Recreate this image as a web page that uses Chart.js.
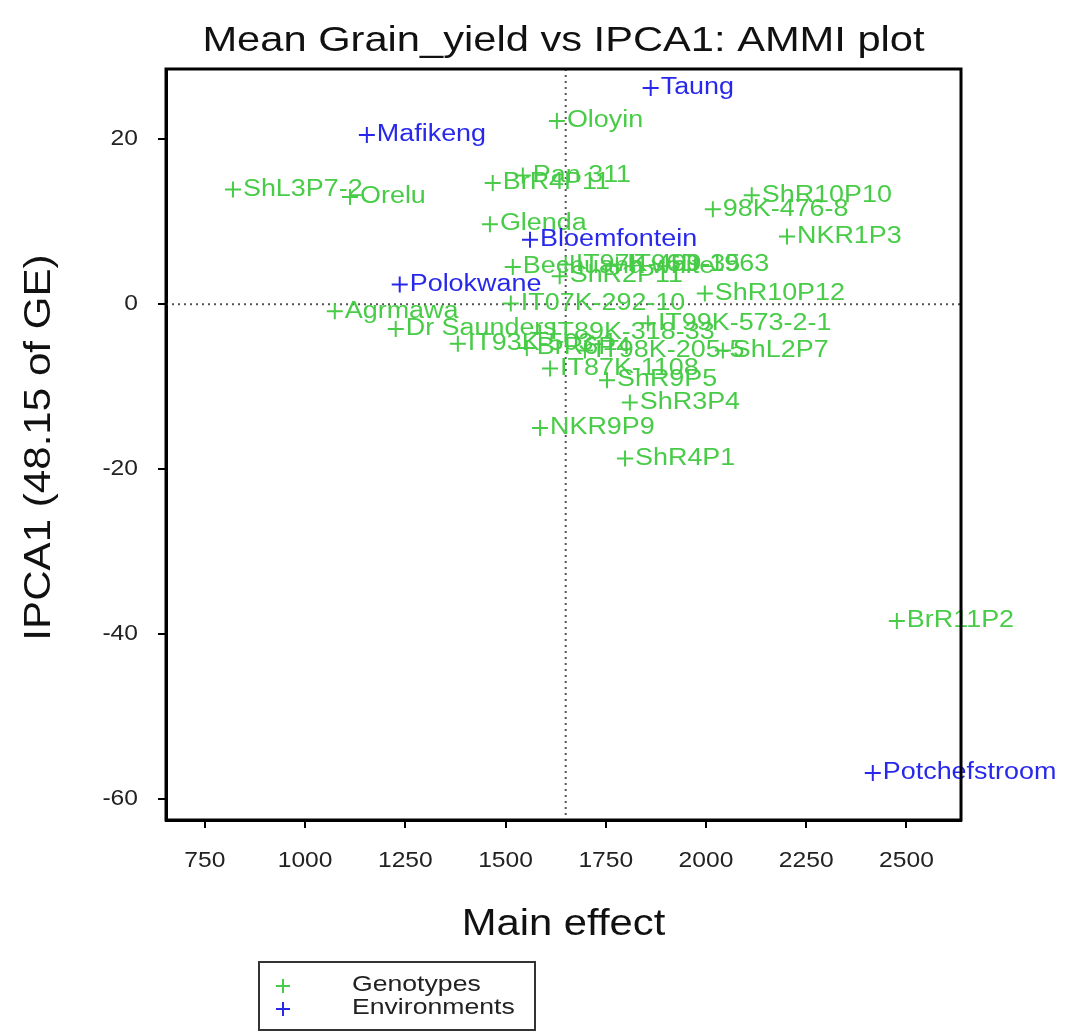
<!DOCTYPE html>
<html>
<head>
<meta charset="utf-8">
<script src="https://cdn.jsdelivr.net/npm/chart.js@4/dist/chart.umd.min.js"></script>
<style>
  body { margin: 0; background: #fff; }
  #wrap { width: 1065px; height: 1034px; }
</style>
</head>
<body>
<div id="wrap"><canvas id="ammi" width="1065" height="1034"></canvas></div>
<script>
// AMMI1 biplot data
const genoNames = ['Oloyin', 'Pan 311', 'BrR4P11', 'ShL3P7-2', 'Orelu', 'ShR10P10', '98K-476-8', 'NKR1P3',
  'Glenda', 'Bechuana white', 'IT97K-499-35', 'IT96D-1963', 'ShR2P11', 'IT07K-292-10', 'ShR10P12',
  'Agrmawa', 'Dr Saunders', 'IT99K-573-2-1', 'ShL2P7', 'IT93K-503-1', 'IT89K-318-33', 'BrR6P4',
  'IT98K-205-5', 'IT87K-1108', 'ShR9P5', 'ShR3P4', 'NKR9P9', 'ShR4P1', 'BrR11P2'];
const genoMean = [1628, 1543, 1468, 820, 1112, 2114, 2017, 2202,
  1461, 1518, 1650, 1778, 1635, 1513, 1997,
  1074, 1226, 1855, 2042, 1381, 1586, 1553,
  1698, 1611, 1753, 1810, 1586, 1798, 2476];
const genoIPCA1 = [22.2, 15.6, 14.7, 13.9, 13.0, 13.2, 11.5, 8.2,
  9.7, 4.5, 4.8, 4.8, 3.4, 0.1, 1.3,
  -0.85, -3.0, -2.3, -5.6, -4.8, -3.5, -5.3,
  -5.6, -7.8, -9.2, -11.9, -15.0, -18.7, -38.4];

const envNames = ['Taung', 'Mafikeng', 'Bloemfontein', 'Polokwane', 'Potchefstroom'];
const envMean = [1862, 1154, 1561, 1236, 2416];
const envIPCA1 = [26.2, 20.5, 7.8, 2.4, -56.8];

const grandMean = 1650;
const xTicks = [750, 1000, 1250, 1500, 1750, 2000, 2250, 2500];
const yTicks = [-60, -40, -20, 0, 20];

const GREEN = 'rgb(72, 204, 72)';
const BLUE = 'rgb(40, 40, 235)';
const FONT = '"Liberation Sans", Arial, sans-serif';

const toPoints = (xs, ys) => xs.map((x, i) => ({ x: x, y: ys[i] }));

// the original text is set wide, so stretch it horizontally
function wideText(ctx, text, x, y, sx) {
  ctx.save();
  ctx.translate(x, y);
  ctx.scale(sx, 1);
  ctx.fillText(text, 0, 0);
  ctx.restore();
}

const overlay = {
  id: 'overlay',
  beforeDatasetsDraw(chart) {
    const { ctx, chartArea: a, scales: { x, y } } = chart;
    ctx.save();
    ctx.strokeStyle = '#555';
    ctx.lineWidth = 2;
    ctx.setLineDash([2, 4]);
    const gx = x.getPixelForValue(grandMean);
    ctx.beginPath();
    ctx.moveTo(gx, a.top); ctx.lineTo(gx, a.bottom);
    const gy = y.getPixelForValue(0);
    ctx.moveTo(a.left, gy); ctx.lineTo(a.right, gy);
    ctx.stroke();
    ctx.restore();
  },
  afterDatasetsDraw(chart) {
    const { ctx } = chart;
    ctx.save();
    ctx.font = '23px ' + FONT;
    ctx.textBaseline = 'middle';
    ctx.textAlign = 'left';
    const names = [genoNames, envNames];
    chart.data.datasets.forEach((ds, di) => {
      const meta = chart.getDatasetMeta(di);
      ctx.fillStyle = ds.borderColor;
      meta.data.forEach((pt, i) => {
        wideText(ctx, names[di][i], pt.x + 10, pt.y, 1.17);
      });
    });
    ctx.restore();
  },
  afterDraw(chart) {
    const { ctx, chartArea: a, scales: { x, y } } = chart;
    ctx.save();
    // plot frame
    ctx.strokeStyle = '#000';
    ctx.lineWidth = 3;
    ctx.strokeRect(a.left, a.top, a.right - a.left, a.bottom - a.top);
    // tick labels
    ctx.fillStyle = '#222';
    ctx.font = '22px ' + FONT;
    ctx.textBaseline = 'middle';
    ctx.textAlign = 'center';
    x.ticks.forEach(t => wideText(ctx, String(t.value), x.getPixelForValue(t.value), 861, 1.12));
    ctx.textAlign = 'right';
    y.ticks.forEach(t => wideText(ctx, String(t.value), 138, y.getPixelForValue(t.value), 1.12));
    // titles
    ctx.fillStyle = '#111';
    ctx.textAlign = 'center';
    ctx.font = '35px ' + FONT;
    wideText(ctx, 'Mean Grain_yield vs IPCA1: AMMI plot', (a.left + a.right) / 2, 41, 1.19);
    ctx.font = '36px ' + FONT;
    wideText(ctx, 'Main effect', (a.left + a.right) / 2, 925, 1.16);
    ctx.save();
    ctx.translate(40, (a.top + a.bottom) / 2 + 3);
    ctx.rotate(-Math.PI / 2);
    wideText(ctx, 'IPCA1 (48.15 of GE)', 0, 0, 1.17);
    ctx.restore();
    // legend box
    ctx.lineWidth = 2;
    ctx.strokeStyle = '#333';
    ctx.strokeRect(259, 962, 276, 68);
    const items = [['Genotypes', GREEN], ['Environments', BLUE]];
    ctx.font = '22px ' + FONT;
    ctx.textAlign = 'left';
    items.forEach((it, i) => {
      const cy = 986 + i * 23;
      ctx.strokeStyle = it[1];
      ctx.lineWidth = 2;
      ctx.beginPath();
      ctx.moveTo(276, cy); ctx.lineTo(290, cy);
      ctx.moveTo(283, cy - 7); ctx.lineTo(283, cy + 7);
      ctx.stroke();
      ctx.fillStyle = '#222';
      wideText(ctx, it[0], 352, cy - 1, 1.21);
    });
    ctx.restore();
  }
};

new Chart(document.getElementById('ammi').getContext('2d'), {
  type: 'scatter',
  data: {
    datasets: [
      {
        label: 'Genotypes',
        data: toPoints(genoMean, genoIPCA1),
        borderColor: GREEN,
        backgroundColor: GREEN,
        pointStyle: 'cross',
        pointRadius: 8,
        pointBorderWidth: 2
      },
      {
        label: 'Environments',
        data: toPoints(envMean, envIPCA1),
        borderColor: BLUE,
        backgroundColor: BLUE,
        pointStyle: 'cross',
        pointRadius: 8,
        pointBorderWidth: 2
      }
    ]
  },
  options: {
    responsive: false,
    animation: false,
    events: [],
    layout: { padding: { top: 69, right: 104, left: 0, bottom: 0 } },
    plugins: { legend: { display: false }, tooltip: { enabled: false } },
    scales: {
      x: {
        type: 'linear',
        min: 653,
        max: 2636,
        afterBuildTicks: s => { s.ticks = xTicks.map(v => ({ value: v })); },
        afterFit: s => { s.height = 214; },
        grid: { drawOnChartArea: false, drawTicks: true, tickLength: 8, color: '#000', lineWidth: 2 },
        border: { display: true, color: '#000', width: 3 },
        ticks: { display: false }
      },
      y: {
        type: 'linear',
        min: -62.5,
        max: 28.5,
        afterBuildTicks: s => { s.ticks = yTicks.map(v => ({ value: v })); },
        afterFit: s => { s.width = 166; },
        grid: { drawOnChartArea: false, drawTicks: true, tickLength: 8, color: '#000', lineWidth: 2 },
        border: { display: true, color: '#000', width: 3 },
        ticks: { display: false }
      }
    }
  },
  plugins: [overlay]
});
</script>
</body>
</html>
